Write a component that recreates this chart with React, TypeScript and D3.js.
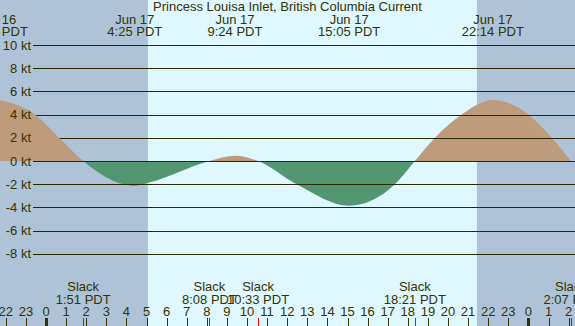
import React from "react";
import * as d3 from "d3";

const W = 575;
const H = 326;

const title = "Princess Louisa Inlet, British Columbia Current";

// Curve points: hours since Jun 17 00:00 PDT, knots
const curveHours = [-2.45, -0.55, 0.65, 1.85, 3.83, 4.42, 5.17, 8.13, 9.4, 10.55, 12.47, 15.08, 17.36, 18.35, 19.35, 20.68, 22.23, 24.0, 25.16, 26.12];
const curveKnots = [5.33, 4.0, 2.0, 0, -2.0, -2.13, -1.84, 0, 0.46, 0, -2.0, -3.85, -2.0, 0, 2.0, 4.0, 5.26, 4.0, 2.0, 0];

// Max current events (top labels)
const maxHours = [-2.45, 4.417, 9.4, 15.083, 22.233];
const maxDates = ["Jun 16", "Jun 17", "Jun 17", "Jun 17", "Jun 17"];
const maxTimes = ["21:33 PDT", "4:25 PDT", "9:24 PDT", "15:05 PDT", "22:14 PDT"];

// Slack events (bottom labels)
const slackHours = [1.85, 8.133, 10.55, 18.35, 26.117];
const slackTimes = ["1:51 PDT", "8:08 PDT", "10:33 PDT", "18:21 PDT", "2:07 PDT"];

// Daylight (hours since Jun 17 00:00)
const sunriseHour = 5.07;
const sunsetHour = 21.44;

const yTicks = [10, 8, 6, 4, 2, 0, -2, -4, -6, -8];
const hourTicks = d3.range(-2, 27);

const NIGHT = "#afc3d8";
const DAY = "#dff7ff";
const FLOOD = "#bd9b7b";
const EBB = "#529672";
const INK = "#333300";
const LINE = "#2a2a00";
const FONT = "'Liberation Sans', Arial, sans-serif";

export default function App() {
  const x = d3.scaleLinear().domain([0, 24]).range([46, 528.4]);
  const y = d3.scaleLinear().domain([-10, 10]).range([277, 45]);

  const pts: [number, number][] = curveHours.map((h, i) => [h, curveKnots[i]]);
  const area = d3
    .area<[number, number]>()
    .x((d) => x(d[0]))
    .y0(y(0))
    .y1((d) => y(d[1]))
    .curve(d3.curveMonotoneX);
  const areaPath = area(pts) || "";
  const zeroY = y(0);
  const firstSlackX = x(slackHours[0]);

  const gridLines = (keyPrefix: string) =>
    yTicks.map((t) => (
      <line
        key={keyPrefix + t}
        x1={33}
        x2={W}
        y1={Math.round(y(t)) + 0.5}
        y2={Math.round(y(t)) + 0.5}
        stroke={LINE}
        strokeWidth={1}
      />
    ));

  return (
    <svg
      width={W}
      height={H}
      style={{ position: "absolute", left: 0, top: 0, display: "block" }}
      fontFamily={FONT}
      fontSize={13}
    >
      <defs>
        <clipPath id="pos">
          <rect x={0} y={0} width={W} height={zeroY} />
        </clipPath>
        <clipPath id="neg">
          <rect x={0} y={zeroY} width={W} height={H - zeroY} />
        </clipPath>
        <clipPath id="afterSlack">
          <rect x={firstSlackX} y={0} width={W - firstSlackX} height={H} />
        </clipPath>
      </defs>
      <rect x={0} y={0} width={W} height={H} fill={NIGHT} />
      <rect x={x(sunriseHour)} y={0} width={x(sunsetHour) - x(sunriseHour)} height={H} fill={DAY} />

      {gridLines("a")}

      <path d={areaPath} fill={FLOOD} clipPath="url(#pos)" />
      <path d={areaPath} fill={EBB} clipPath="url(#neg)" />

      <g clipPath="url(#afterSlack)">{gridLines("b")}</g>
      <line x1={33} x2={W} y1={Math.round(zeroY) + 0.5} y2={Math.round(zeroY) + 0.5} stroke={LINE} />

      {yTicks.map((t) => (
        <text key={"yl" + t} x={31} y={y(t) + 4.5} textAnchor="end" fill={INK}>
          {t} kt
        </text>
      ))}

      <text x={W / 2} y={11} textAnchor="middle" fill={INK}>
        {title}
      </text>

      {maxHours.map((h, i) => (
        <g key={"m" + i}>
          <text x={x(h)} y={23.5} textAnchor="middle" fill={INK}>
            {maxDates[i]}
          </text>
          <text x={x(h)} y={36} textAnchor="middle" fill={INK}>
            {maxTimes[i]}
          </text>
        </g>
      ))}

      {slackHours.map((h, i) => (
        <g key={"s" + i}>
          <text x={x(h)} y={291} textAnchor="middle" fill={INK}>
            Slack
          </text>
          <text x={x(h)} y={304} textAnchor="middle" fill={INK}>
            {slackTimes[i]}
          </text>
        </g>
      ))}

      {hourTicks.map((h) => {
        const hh = ((h % 24) + 24) % 24;
        const xp = Math.round(x(h));
        return (
          <g key={"h" + h}>
            <text x={x(h)} y={316} textAnchor="middle" fill={INK}>
              {hh}
            </text>
            {hh === 0 ? (
              <rect x={xp - 1} y={318} width={3} height={8} fill={INK} />
            ) : (
              <line x1={xp + 0.5} x2={xp + 0.5} y1={318} y2={H} stroke={INK} />
            )}
          </g>
        );
      })}

      {slackHours.map((h, i) => {
        const xp = Math.round(x(h));
        return <line key={"rt" + i} x1={xp + 0.5} x2={xp + 0.5} y1={318} y2={H} stroke="#ff0000" />;
      })}
    </svg>
  );
}
